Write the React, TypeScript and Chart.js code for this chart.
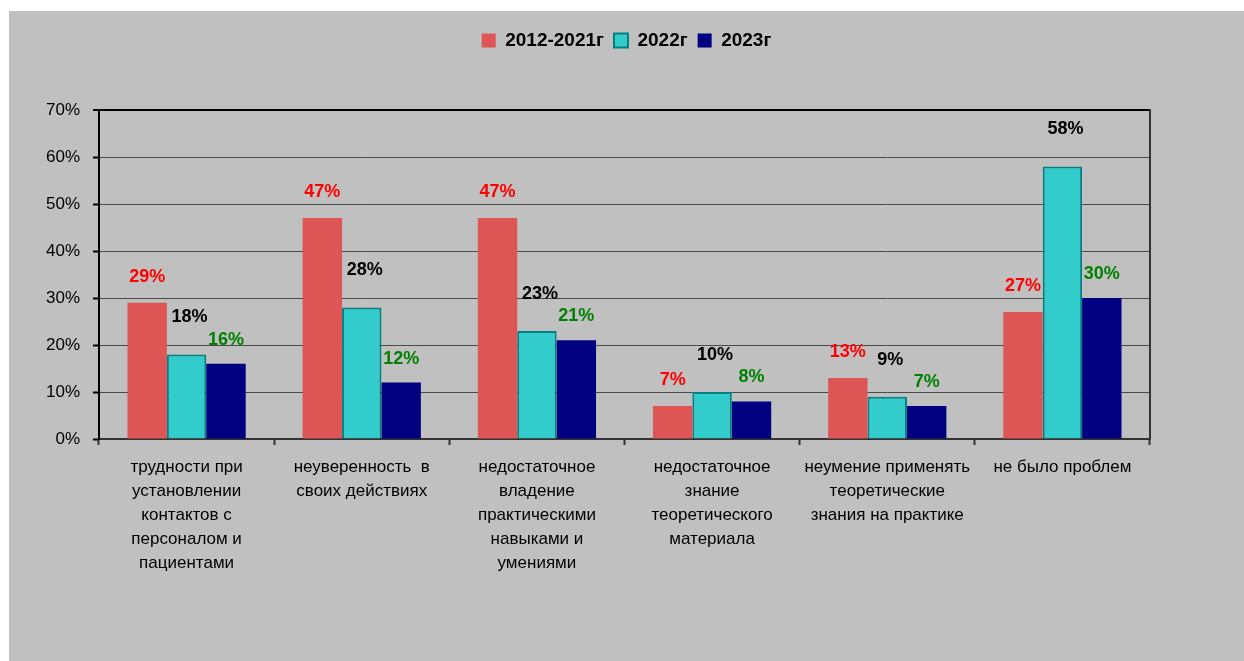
import React, { useEffect, useRef } from "react";
import { Chart, registerables } from "chart.js";

Chart.register(...registerables);

const categories: string[][] = [
  ["трудности при", "установлении", "контактов с", "персоналом и", "пациентами"],
  ["неуверенность  в", "своих действиях"],
  ["недостаточное", "владение", "практическими", "навыками и", "умениями"],
  ["недостаточное", "знание", "теоретического", "материала"],
  ["неумение применять", "теоретические", "знания на практике"],
  ["не было проблем"],
];
const seriesNames = ["2012-2021г", "2022г", "2023г"];
const values2012_2021 = [29, 47, 47, 7, 13, 27];
const values2022 = [18, 28, 23, 10, 9, 58];
const values2023 = [16, 12, 21, 8, 7, 30];
const yMax = 70;
const yStep = 10;

const FONT = '"Liberation Sans", Arial, sans-serif';
const labelColors = ["#FF0000", "#000000", "#008000"];
const labelOffsets = [26, 37, 24];

const valueLabels = {
  id: "valueLabels",
  afterDatasetsDraw(chart: any) {
    const ctx = chart.ctx;
    chart.data.datasets.forEach((ds: any, i: number) => {
      const meta = chart.getDatasetMeta(i);
      ctx.save();
      ctx.font = `bold 18px ${FONT}`;
      ctx.fillStyle = labelColors[i];
      ctx.textAlign = "center";
      ctx.textBaseline = "middle";
      meta.data.forEach((bar: any, j: number) => {
        ctx.fillText(`${ds.data[j]}%`, bar.x + (i === 1 ? 3 : 0), bar.y - labelOffsets[i]);
      });
      ctx.restore();
    });
  },
};

const legendHeight = {
  id: "legendHeight",
  beforeLayout(chart: any) {
    const legend = chart.legend;
    if (legend && !legend.__patched) {
      const fit = legend.fit;
      legend.fit = function () {
        fit.call(this);
        this.height = 89;
      };
      legend.__patched = true;
    }
  },
};

export default function App() {
  const ref = useRef<HTMLCanvasElement>(null);
  useEffect(() => {
    if (!ref.current) return;
    const chart = new Chart(ref.current, {
      type: "bar",
      data: {
        labels: categories,
        datasets: [
          {
            label: seriesNames[0],
            data: values2012_2021,
            backgroundColor: "#DD5555",
            borderWidth: 0,
          },
          {
            label: seriesNames[1],
            data: values2022,
            backgroundColor: "#33CCCC",
            borderColor: "#008080",
            borderWidth: 2,
          },
          {
            label: seriesNames[2],
            data: values2023,
            backgroundColor: "#000080",
            borderWidth: 0,
          },
        ],
      },
      options: {
        animation: false,
        responsive: true,
        maintainAspectRatio: false,
        layout: { padding: { top: 10, left: 0, right: 0, bottom: 0 } },
        datasets: { bar: { barPercentage: 1, categoryPercentage: 0.675 } },
        plugins: {
          legend: {
            position: "top",
            labels: {
              color: "#000",
              boxWidth: 14,
              boxHeight: 14,
              padding: 10,
              font: { family: FONT, size: 19, weight: "bold" },
            },
          },
          tooltip: { enabled: false },
        },
        scales: {
          x: {
            grid: {
              offset: true,
              drawOnChartArea: false,
              drawTicks: true,
              tickLength: 6,
              tickColor: "#333",
              tickWidth: 2,
            },
            border: { color: "#333", width: 2 },
            ticks: {
              color: "#000",
              font: { family: FONT, size: 17, lineHeight: "24px" },
              padding: 10,
              maxRotation: 0,
              autoSkip: false,
            },
            afterFit: (s: any) => {
              s.height = 222;
            },
          },
          y: {
            min: 0,
            max: yMax,
            ticks: {
              stepSize: yStep,
              color: "#000",
              font: { family: FONT, size: 17 },
              padding: 13,
              callback: (v: any) => `${v}%`,
            },
            grid: {
              color: (c: any) => (c.tick && c.tick.value === yMax ? "#000" : "#4a4a4a"),
              lineWidth: (c: any) => (c.tick && c.tick.value === yMax ? 2 : 1),
              tickColor: "#000",
              tickLength: 6,
              tickWidth: 2,
            },
            border: { color: "#000", width: 2 },
            afterFit: (s: any) => {
              s.width = 90;
            },
          },
          y2: {
            position: "right",
            display: true,
            grid: { display: true, drawOnChartArea: false, drawTicks: false },
            ticks: { display: false },
            border: { display: true, color: "#333", width: 2 },
            afterFit: (s: any) => {
              s.width = 94;
            },
          },
        },
      },
      plugins: [valueLabels, legendHeight],
    } as any);
    return () => chart.destroy();
  }, []);
  return (
    <div
      style={{
        position: "absolute",
        left: 9,
        top: 11,
        width: 1235,
        height: 650,
        background: "#C0C0C0",
      }}
    >
      <canvas ref={ref} />
    </div>
  );
}
